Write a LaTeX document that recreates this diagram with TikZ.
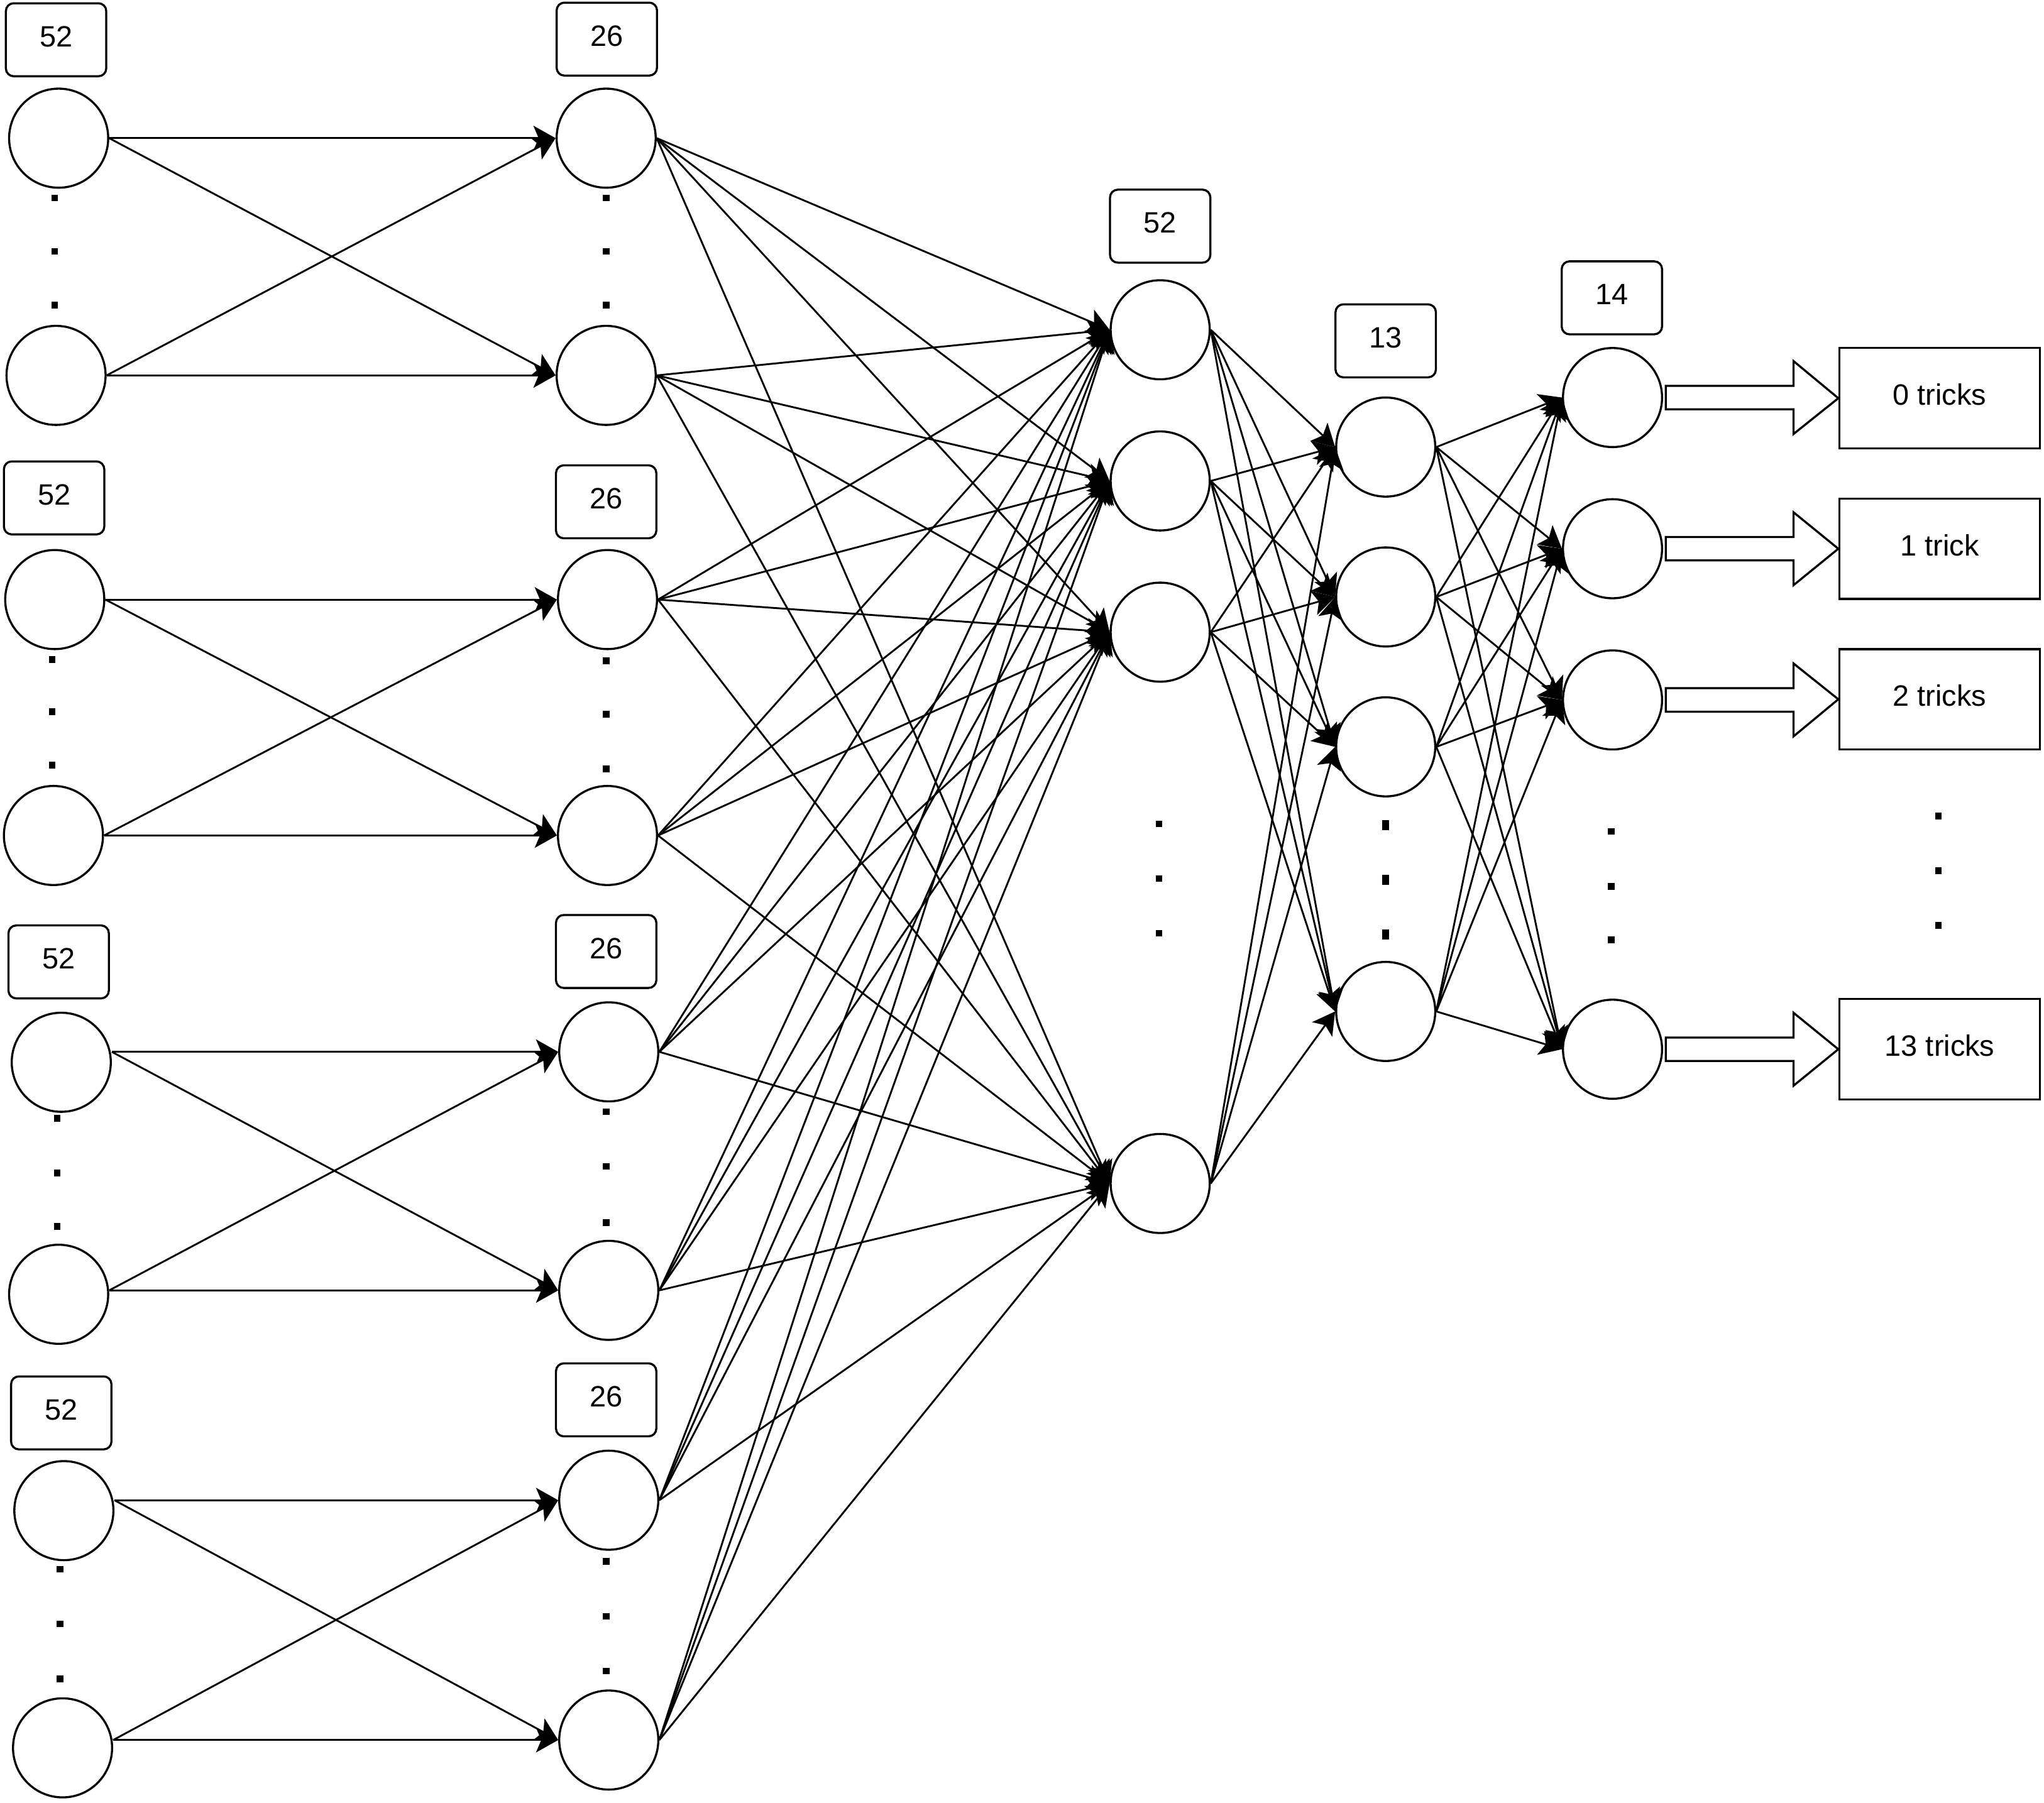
\documentclass[tikz,border=0pt]{standalone}
\usepackage{fontspec}
\setmainfont{Liberation Sans}
\usetikzlibrary{arrows.meta,calc}

\begin{document}
\begin{tikzpicture}[x=0.5pt,y=-0.5pt,
  every node/.style={font=\fontsize{11.3}{13.5}\selectfont,text height=8.1pt,text depth=2.8pt},
  neuron/.style={circle,draw=black,line width=0.8pt,minimum size=38pt,inner sep=0pt},
  countbox/.style={rectangle,rounded corners=3pt,draw=black,line width=0.8pt,minimum width=38.5pt,minimum height=28pt,inner sep=0pt},
  result/.style={rectangle,draw=black,line width=0.8pt,minimum width=77pt,minimum height=38.5pt,inner sep=0pt},
  >={Stealth[length=8.5pt,width=9.5pt,inset=2pt]}]
\useasboundingbox (0,0) rectangle (1568,1383);
% input layer, four groups of 52
\node (a1) [neuron] at (45,106) {};
\node (a2) [neuron] at (43,288) {};
\node (a3) [neuron] at (42,460) {};
\node (a4) [neuron] at (41,641) {};
\node (a5) [neuron] at (47,815) {};
\node (a6) [neuron] at (45,993) {};
\node (a7) [neuron] at (49,1159) {};
\node (a8) [neuron] at (48,1341) {};
\node (la1) [countbox] at (43,30.5) {52};
\node (la3) [countbox] at (41.5,382) {52};
\node (la5) [countbox] at (45,738) {52};
\node (la7) [countbox] at (47,1084) {52};
%
\node (b1) [neuron] at (465,106) {};
\node (b2) [neuron] at (465,288) {};
\node (b3) [neuron] at (466,460) {};
\node (b4) [neuron] at (466,641) {};
\node (b5) [neuron] at (467,807) {};
\node (b6) [neuron] at (467,990) {};
\node (b7) [neuron] at (467,1151) {};
\node (b8) [neuron] at (467,1335) {};
\node (lb1) [countbox] at (465.5,30) {26};
\node (lb3) [countbox] at (465,385) {26};
\node (lb5) [countbox] at (465,730) {26};
\node (lb7) [countbox] at (465,1074) {26};
%
\node (c1) [neuron] at (890,253) {};
\node (c2) [neuron] at (890,369) {};
\node (c3) [neuron] at (890,485) {};
\node (c4) [neuron] at (890,908) {};
\node (lc) [countbox] at (890,173.5) {52};
%
\node (d1) [neuron] at (1063,343) {};
\node (d2) [neuron] at (1063,458) {};
\node (d3) [neuron] at (1063,573) {};
\node (d4) [neuron] at (1063,776) {};
\node (ld) [countbox] at (1063,261.5) {13};
%
\node (e1) [neuron] at (1237,305) {};
\node (e2) [neuron] at (1237,421) {};
\node (e3) [neuron] at (1237,537) {};
\node (e4) [neuron] at (1237,805) {};
\node (le) [countbox] at (1236.5,228.5) {14};
%
\node (o1) [result] at (1488,305.5) {0 tricks};
\node (o2) [result] at (1488,421) {1 trick};
\node (o3) [result] at (1488,536.5) {2 tricks};
\node (o4) [result] at (1488,805) {13 tricks};
%
% vertical dots
\foreach \x/\y in {42/152,42/193,42/234, 40/506,40/546,40/587, 44/858,44/900,44/941, 46/1204,46/1246,46/1288,
  465/152,465/193,465/234, 465/507,465/548,465/590, 465/853,465/895,465/938, 465/1198,465/1240,465/1282,
  889/632,889/674,889/716, 1236/638,1236/680,1236/721, 1487/626,1487/668,1487/710}
  \fill (\x-2.5,\y-2.5) rectangle ++(5,5);
\foreach \y in {633,675,717}
  \fill (1060.5,\y-4) rectangle ++(5,8);
%
% connections
\foreach \g [evaluate=\g as \h using int(\g+1)] in {1,3,5,7}
  \foreach \s in {\g,\h}
    \foreach \t in {\g,\h}
      \path[->,line width=0.7pt] (a\s.east |- b\s.west) edge (b\t.west);
\foreach \s in {1,...,8}
  \foreach \t in {1,...,4}
    \path[->,line width=0.7pt] (b\s.east) edge (c\t.west);
\foreach \s in {1,...,4}
  \foreach \t in {1,...,4} {
    \path[->,line width=0.7pt] (c\s.east) edge (d\t.west);
    \path[->,line width=0.7pt] (d\s.east) edge (e\t.west);
  }
%
% block arrows to the outputs
\foreach \i in {1,...,4}
  \draw[line width=0.8pt] ($(e\i.east)+(2,-9)$) -- ++(98,0) -- ++(0,-19) -- (o\i.west)
    -- ($(e\i.east)+(100,28)$) -- ++(0,-19) -- ($(e\i.east)+(2,9)$) -- cycle;
\end{tikzpicture}
\end{document}
